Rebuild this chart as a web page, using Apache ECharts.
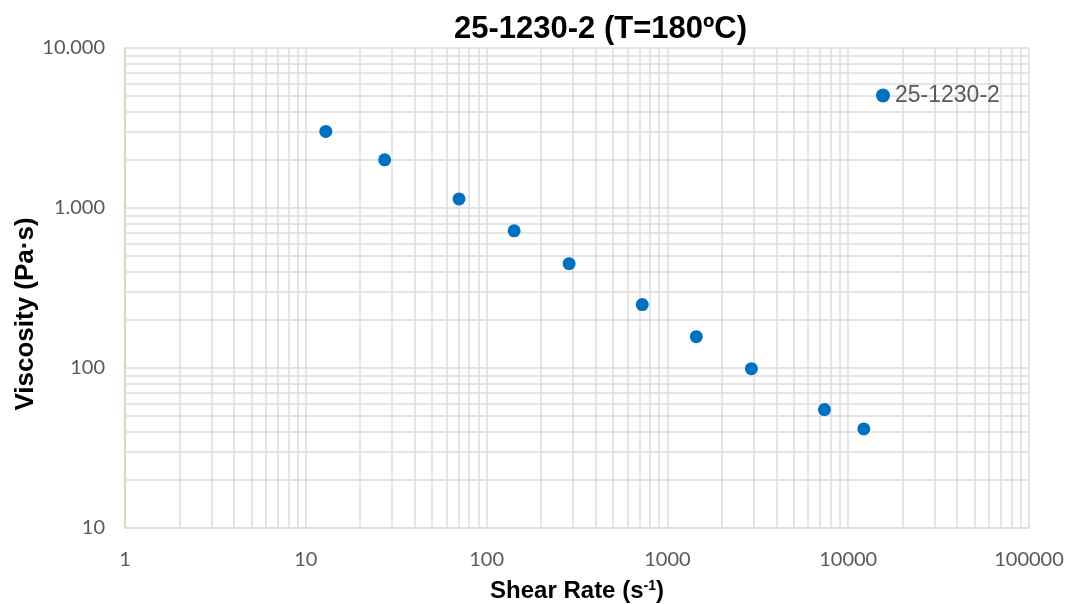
<!DOCTYPE html>
<html>
<head>
<meta charset="utf-8">
<title>25-1230-2 viscosity</title>
<script src="https://cdn.jsdelivr.net/npm/echarts@6/dist/echarts.min.js"></script>
<style>
  html, body { margin: 0; padding: 0; background: #fff; }
  #app { width: 1067px; height: 604px; }
</style>
</head>
<body>
<div id="app"></div>
<script>
const seriesName = '25-1230-2';
const shearRate = [12.9, 27.3, 70.4, 142, 286, 726, 1445, 2915, 7390, 12200];
const viscosity = [3010, 2000, 1140, 720, 449, 249, 157, 99, 55, 41.6];
const xTicks = [1, 10, 100, 1000, 10000, 100000];
const yTicks = [10, 100, 1000, 10000];

// minor grid lines at 2..9 of every decade
const minorLines = (ticks) => {
  const out = [];
  ticks.slice(0, -1).forEach(d => {
    for (let k = 2; k <= 9; k++) out.push(d * k);
  });
  return out;
};
const xMinor = minorLines(xTicks);
const yMinor = minorLines(yTicks);

const gridColor = '#dcdcdc';
const labelColor = '#595959';
const dotFmt = v => String(v).replace(/\B(?=(\d{3})+(?!\d))/g, '.');

const myChart = echarts.init(document.getElementById('app'));

const option = {
  animation: false,
  title: {
    text: '25-1230-2 (T=180ºC)',
    left: 449,
    top: 9,
    textStyle: {
      fontFamily: 'Liberation Sans, Arial',
      fontWeight: 'bold',
      fontSize: 31,
      color: '#000'
    }
  },
  legend: {
    data: [seriesName],
    left: 871,
    top: 79,
    itemWidth: 14,
    itemHeight: 14,
    itemGap: 6,
    textStyle: {
      fontFamily: 'Liberation Sans, Arial',
      fontSize: 23,
      color: labelColor
    }
  },
  grid: {
    left: 125,
    right: 38,
    top: 48,
    bottom: 76,
    containLabel: false,
    outerBoundsMode: 'none'
  },
  xAxis: {
    type: 'log',
    logBase: 10,
    min: xTicks[0],
    max: xTicks[xTicks.length - 1],
    name: '{a|Shear Rate (s}{sup|-1}{a|)}',
    nameLocation: 'middle',
    nameGap: 51,
    nameMoveOverlap: false,
    nameTextStyle: {
      rich: {
        a: { fontFamily: 'Liberation Sans, Arial', fontWeight: 'bold', fontSize: 24, color: '#000' },
        sup: { fontFamily: 'Liberation Sans, Arial', fontWeight: 'bold', fontSize: 14, color: '#000', verticalAlign: 'top', padding: [0, 0, 8, 0] }
      }
    },
    axisLine: { show: true, lineStyle: { color: gridColor, width: 1.5 } },
    axisTick: { show: false },
    axisLabel: {
      margin: 22,
      fontFamily: 'Lato',
      fontSize: 20,
      color: labelColor,
      formatter: v => String(v)
    },
    splitLine: { show: true, lineStyle: { color: gridColor, width: 1.5 } }
  },
  yAxis: {
    type: 'log',
    logBase: 10,
    min: yTicks[0],
    max: yTicks[yTicks.length - 1],
    name: 'Viscosity (Pa·s)',
    nameLocation: 'middle',
    nameGap: 86,
    nameMoveOverlap: false,
    nameTextStyle: {
      fontFamily: 'Liberation Sans, Arial',
      fontWeight: 'bold',
      fontSize: 26,
      color: '#000',
      padding: [0, 52, 0, 0]
    },
    axisLine: { show: true, lineStyle: { color: '#d6d0b6', width: 1.5 } },
    axisTick: { show: false },
    axisLabel: {
      margin: 20,
      fontFamily: 'Lato',
      fontSize: 20,
      color: labelColor,
      formatter: v => dotFmt(v)
    },
    splitLine: { show: true, lineStyle: { color: gridColor, width: 1.5 } }
  },
  series: [
    {
      name: 'minor-grid',
      type: 'scatter',
      data: [],
      z: 1,
      silent: true,
      markLine: {
        z: 1,
        silent: true,
        symbol: 'none',
        label: { show: false },
        lineStyle: { color: gridColor, width: 1.5, type: 'solid' },
        emphasis: { disabled: true },
        data: [
          ...xMinor.map(v => ({ xAxis: v })),
          ...yMinor.map(v => ({ yAxis: v }))
        ]
      }
    },
    {
      name: seriesName,
      type: 'scatter',
      z: 3,
      symbol: 'circle',
      symbolSize: 13,
      itemStyle: { color: '#0070c0', opacity: 1 },
      emphasis: { disabled: true },
      data: shearRate.map((x, i) => [x, viscosity[i]])
    }
  ]
};

myChart.setOption(option);
</script>
</body>
</html>
